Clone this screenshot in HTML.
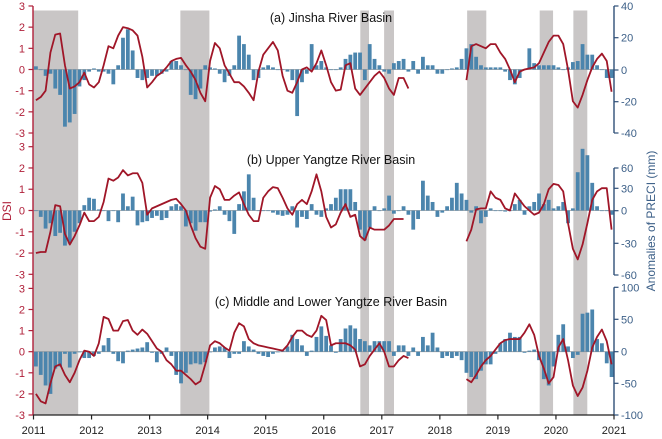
<!DOCTYPE html>
<html><head><meta charset="utf-8"><style>
html,body{margin:0;padding:0;background:#fff;width:662px;height:439px;overflow:hidden}
svg{display:block;font-family:"Liberation Sans",Arial,sans-serif}
</style></head><body>
<svg id="s" width="662" height="439" viewBox="0 0 662 439" xmlns="http://www.w3.org/2000/svg"></svg>
<script>
const X0=33.5,YW=58.05,MW=YW/12;
const mx=m=>X0+(m+0.5)*MW, yx=y=>X0+(y-2011)*YW;
let o='';
// gray bands
[[2011,2011.77],[2013.53,2014.03],[2016.63,2016.78],[2017.04,2017.21],[2018.47,2018.8],[2019.72,2019.95],[2020.3,2020.54]].forEach(b=>{
o+=`<rect x="${yx(b[0])}" y="10.5" width="${yx(b[1])-yx(b[0])}" height="404.5" fill="#c9c6c6"/>`;});
const panels=[
{z:69.5,k:21.17,
bars:[0.15,0,-0.3,-0.2,-0.9,-1.2,-2.7,-2.5,-2.1,-0.8,-0.5,-0.1,
0.05,-0.1,-0.1,-0.2,-0.7,0.2,1.5,1.9,0.9,-0.4,-0.5,-0.4,
-0.3,-0.3,-0.2,-0.1,0.4,0.4,0.2,0,-1.2,-1.4,-0.9,0.2,
0.1,0.05,-0.2,-0.6,-0.3,0.2,1.6,1.2,0.7,-0.5,-0.4,0.1,
0.2,0.1,0,0,-0.1,-0.5,-2.2,-0.6,-0.2,1.2,0.2,0.4,
0.1,0,0,0.1,0.5,0.7,0.8,0.8,-0.5,1.2,0.5,0.2,
-0.1,-0.2,0.3,0.4,0.5,-0.1,0.4,-0.2,0.6,0.2,0.2,-0.2,
-0.2,0,0.05,0.1,0.5,1.0,1.2,0.6,0.2,0.1,0.1,0.1,
0.1,-0.1,-0.5,-0.7,-0.4,0,1.0,0.3,0.2,0.2,0.2,0.2,
0.1,0,0.1,0.35,0.4,1.2,0.7,0.7,0.2,0,-0.4,-0.4],
line:[-1.45,-1.3,-1.0,0.8,1.65,1.7,0.2,-0.9,-0.8,-0.6,-0.15,-0.7,
-0.85,-0.6,0.2,1.1,1.0,1.6,2.0,1.95,1.85,1.6,0.6,-0.85,
-0.6,-0.3,-0.15,0.1,0.4,0.5,0.55,0.2,-0.1,-0.5,-1.1,-1.5,
0.4,1.25,1.0,0.2,-0.2,-0.6,-0.6,-0.8,-1.1,-1.45,-0.1,0.7,
1.0,1.3,0.9,-0.3,-1.0,-1.1,-0.6,0,0.1,-0.1,0.3,0.9,
0.2,-0.6,-1.0,-0.95,0.2,0.3,-0.9,-1.2,-0.9,-0.6,-0.3,-0.1,
-0.4,-0.9,-1.2,-0.4,-0.4,-0.9,null,null,null,null,null,null,
null,null,null,null,null,-0.5,1.1,1.2,1.1,1.0,1.2,1.2,
0.8,0.5,0,-0.6,-0.1,0,0.05,0.1,0.3,0.8,1.3,1.6,
1.6,1.2,0,-1.5,-1.8,-1.2,-0.5,0.1,0.5,0.75,0.4,-1.05],
title:"(a) Jinsha River Basin",ty:22},
{z:210.5,k:21.27,
bars:[0,-0.3,-0.85,-0.6,-1.2,-1.05,-1.65,-1.55,-1.0,-0.6,0.25,0.6,
0.55,0.05,0,-0.5,0,-0.55,0.8,0.2,0.65,-0.7,-0.55,-0.5,
-0.35,-0.25,-0.45,-0.35,0.2,0.3,0.2,-0.75,-0.6,-0.95,-0.55,-0.55,
-0.05,0.05,0.2,-0.2,-0.5,-1.1,0.3,0.9,1.7,0.6,0,0,
0,-0.1,-0.2,-0.25,-0.2,0.2,-0.8,-0.3,-0.4,0.3,-0.2,-0.3,
0.1,0.3,0.6,1.0,1.0,1.0,0.4,-0.9,-1.4,-0.8,0.2,0,
0.1,0.7,-0.15,0,0.2,-0.2,-0.9,-0.4,1.4,0.7,0.4,-0.3,
-0.1,0.2,0.6,1.3,0.8,0.5,-0.1,0.2,-0.6,-0.3,0.1,0,
0,-0.05,0,0.3,0.5,-0.2,0.2,0.4,0.8,0.3,0.5,0.1,
0.2,0.4,-0.6,0.1,1.8,2.9,2.6,1.3,0.2,0,0,-0.2],
line:[-2.0,-1.95,-1.95,-1.0,0.25,0.2,-1.1,-1.6,-1.2,-0.7,-0.1,-0.5,
-0.5,-0.3,0.4,1.5,1.4,1.55,1.9,1.65,1.75,1.75,1.3,-0.2,
0.1,0.2,0.3,0.4,0.5,0.55,0.3,0,-0.7,-1.3,-1.7,-1.8,
0.6,1.15,1.0,0.5,0.5,0.7,0.85,0.3,-0.2,-0.5,-0.5,0.6,
0.9,1.1,1.05,0.6,0.1,-0.2,0.3,0.5,0.3,0.9,1.7,0.9,
-0.3,-0.8,-0.65,-0.1,0.3,-0.3,-0.2,-1.2,-1.4,-0.8,-0.9,-0.9,
-0.9,-0.7,-0.4,-0.4,-0.4,null,null,null,null,null,null,null,
null,null,null,null,null,-1.45,-0.9,0.05,0.1,0.1,0.9,0.6,
0.5,0.1,0,0.8,0.5,0.2,0,-0.2,-0.1,0.3,1.0,1.25,
1.2,0.9,-0.6,-1.8,-2.3,-1.6,-0.6,0.5,0.9,1.05,1.05,-0.9],
title:"(b) Upper Yangtze River Basin",ty:164},
{z:351.7,k:21.1,
bars:[-0.7,-1.1,-1.6,-2.0,-0.8,-0.7,-0.1,-0.75,-0.1,0,-0.3,-0.3,
-0.2,-0.1,0.3,0.65,-0.1,-0.45,-0.55,0.05,0.1,0.15,0.2,0.45,
-0.05,-0.5,-0.1,0.2,-0.2,-1.1,-1.5,-1.0,-0.6,-0.55,-0.6,-0.5,
0,0.2,0.25,0.2,-0.3,-0.1,-0.1,0.5,0.25,0.1,-0.1,-0.2,
-0.25,-0.1,0,0.05,0.25,0.8,0.6,0.3,-0.2,0.05,0.7,1.2,
0.75,0.3,-0.05,0.6,1.1,1.25,1.1,0.6,0.5,0.3,0.5,0.5,
0.5,0.5,-0.2,0.3,0.3,-0.2,0.2,-0.2,0.7,0.3,0.9,0.2,
-0.3,-0.2,-0.3,-0.2,-0.4,-1.0,-1.2,-1.3,-0.9,-0.6,-0.6,-0.1,
0.4,0.6,0.9,0.7,0.7,-0.05,0.05,0.1,-0.4,-1.3,-1.6,-0.7,
0.8,1.3,0.25,-0.3,-0.15,1.8,1.85,2.0,0.6,0.4,-0.55,-1.2],
line:[-2.0,-2.35,-2.45,-1.5,-0.7,-0.6,-1.1,-1.45,-1.0,-0.4,0.05,0,
-0.2,0.4,1.65,1.55,1.0,1.0,1.45,1.5,1.0,0.8,1.05,0.85,
0.5,0.15,0,-0.4,-0.6,-0.9,-0.9,-1.1,-1.3,-1.55,-1.4,-0.6,
0.3,0.5,0.4,0.2,0.05,0.9,1.35,1.2,0.6,0.4,0.3,0.25,
0.2,0.15,0.1,0.05,0.3,0.7,1.0,1.0,0.8,0.7,1.0,1.7,
1.5,0.3,0.4,0.4,0.4,0.3,0.1,-0.7,-0.6,-0.2,0.1,0.4,
0,-0.7,-0.7,-0.4,-0.2,-0.3,null,null,null,null,null,null,
null,null,null,null,null,-1.3,-1.45,-1.1,-0.7,-0.4,-0.2,0.1,
0.4,0.55,0.6,0.6,0.6,0.9,1.3,0.8,-0.2,-0.8,-1.5,-1.2,
0.2,0.6,-0.4,-1.6,-2.1,-1.7,-0.9,0.2,0.7,1.05,0.5,-0.6],
title:"(c) Middle and Lower Yangtze River Basin",ty:306}
];
panels.forEach(p=>{
 o+=`<line x1="33" x2="614" y1="${p.z}" y2="${p.z}" stroke="#9a9a9a" stroke-width="0.8"/>`;
 p.bars.forEach((v,m)=>{const h=v*p.k;const y=h>0?p.z-h:p.z;
  o+=`<rect x="${(mx(m)-1.9).toFixed(2)}" y="${y.toFixed(2)}" width="3.8" height="${Math.max(Math.abs(h),0.6).toFixed(2)}" fill="#4b85ad"/>`;});
 let d='',pen=false;
 p.line.forEach((v,m)=>{if(v===null){pen=false;return;}
  d+=(pen?'L':'M')+mx(m).toFixed(2)+' '+(p.z-v*p.k).toFixed(2)+' ';pen=true;});
 o+=`<path d="${d}" fill="none" stroke="#a01628" stroke-width="1.8" stroke-linejoin="round"/>`;
 o+=`<text x="331" y="${p.ty}" font-size="12.5" text-anchor="middle" fill="#111">${p.title}</text>`;
 for(let t=-3;t<=3;t++){const y=p.z-t*p.k;
  o+=`<line x1="28.5" x2="33" y1="${y}" y2="${y}" stroke="#b0203a" stroke-width="1.2"/>`;
  o+=`<text x="25" y="${y+4}" font-size="11" text-anchor="end" fill="#b0203a">${t}</text>`;}
});
o+=`<line x1="33" x2="33" y1="6" y2="415" stroke="#b0203a" stroke-width="1.4"/>`;
// right axes
const R=[[["40",6],["20",37.7],["0",70],["-20",101.7],["-40",133]],
[["60",168],["30",188.3],["0",210.7],["-30",243.3],["-60",275]],
[["100",287.3],["50",319.3],["0",351.7],["-50",383.3],["-100",415]]];
R.forEach(a=>{o+=`<line x1="614" x2="614" y1="${a[0][1]}" y2="${a[4][1]}" stroke="#2f4f78" stroke-width="1.4"/>`;
 a.forEach(([l,y])=>{o+=`<line x1="614" x2="618.5" y1="${y}" y2="${y}" stroke="#2f4f78" stroke-width="1.2"/>`;
 o+=`<text x="621" y="${y+4}" font-size="11" fill="#3d6088">${l}</text>`;});});
// bottom axis
o+=`<line x1="33" x2="614" y1="415" y2="415" stroke="#222" stroke-width="1.2"/>`;
for(let y=2011;y<=2021;y++){const x=yx(y);
 o+=`<line x1="${x}" x2="${x}" y1="415" y2="419.5" stroke="#222" stroke-width="1.2"/>`;
 o+=`<text x="${x}" y="434" font-size="11" text-anchor="middle" fill="#222">${y}</text>`;}
o+=`<text transform="translate(11,211) rotate(-90)" font-size="12" text-anchor="middle" fill="#b0203a">DSI</text>`;
o+=`<text transform="translate(655,221) rotate(-90)" font-size="12" text-anchor="middle" fill="#3d6088">Anomalies of PRECI (mm)</text>`;
document.getElementById('s').innerHTML=o;
</script>
</body></html>
